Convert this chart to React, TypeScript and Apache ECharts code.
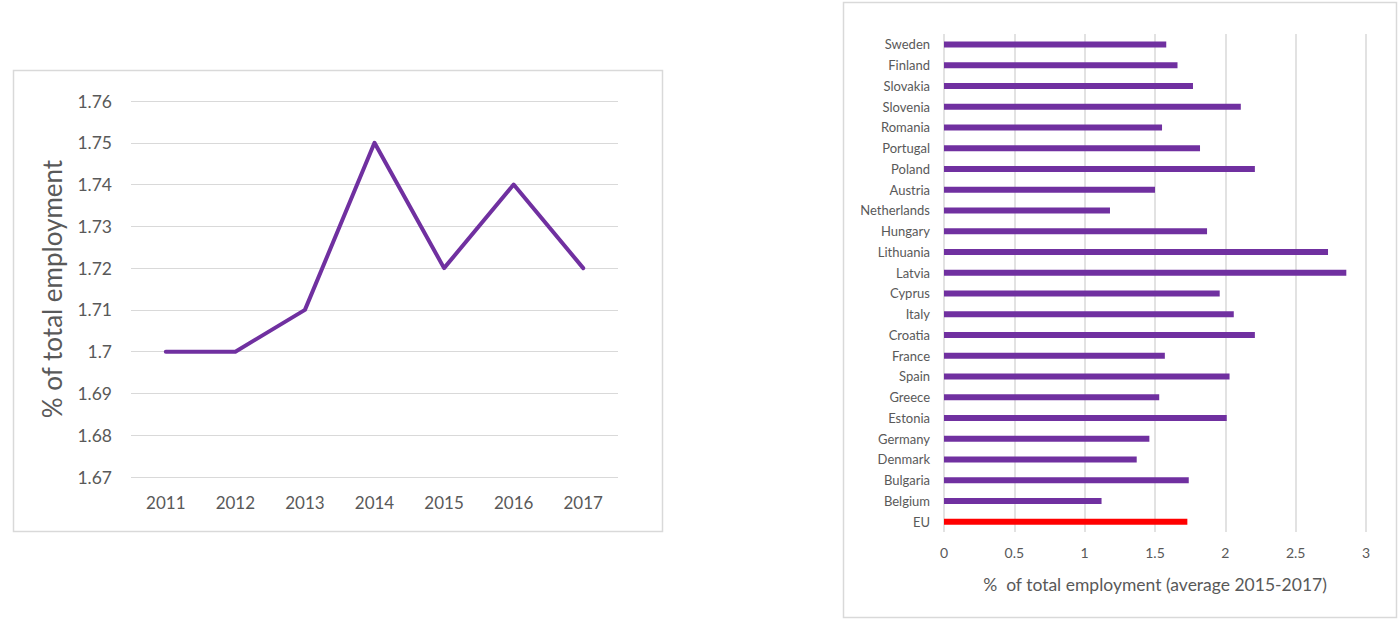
import React, { useEffect, useRef } from "react";
import * as echarts from "echarts";

const years = ["2011", "2012", "2013", "2014", "2015", "2016", "2017"];
const shareByYear = [1.7, 1.7, 1.71, 1.75, 1.72, 1.74, 1.72];

const countries = [
  "Sweden", "Finland", "Slovakia", "Slovenia", "Romania", "Portugal", "Poland",
  "Austria", "Netherlands", "Hungary", "Lithuania", "Latvia", "Cyprus", "Italy",
  "Croatia", "France", "Spain", "Greece", "Estonia", "Germany", "Denmark",
  "Bulgaria", "Belgium", "EU",
];
const countryShare = [
  1.58, 1.66, 1.77, 2.11, 1.55, 1.82, 2.21,
  1.5, 1.18, 1.87, 2.73, 2.86, 1.96, 2.06,
  2.21, 1.57, 2.03, 1.53, 2.01, 1.46, 1.37,
  1.74, 1.12, 1.73,
];
const highlight = "EU";

const PURPLE = "#7030A0";
const TEXT = "#595959";
const GRID = "#d9d9d9";
const FONT = "Lato, 'Open Sans', sans-serif";

export default function App() {
  const ref = useRef<HTMLDivElement>(null);
  useEffect(() => {
    if (!ref.current) return;
    const chart = echarts.init(ref.current, null, { renderer: "svg" });
    const fmt = (v: number) => String(parseFloat(v.toFixed(2)));
    chart.setOption({
      animation: false,
      backgroundColor: "#ffffff",
      textStyle: { fontFamily: FONT, color: TEXT },
      graphic: [
        {
          type: "rect",
          shape: { x: 13.5, y: 70.5, width: 649, height: 461 },
          style: { fill: "none", stroke: GRID, lineWidth: 1.5 },
          silent: true,
        },
        {
          type: "rect",
          shape: { x: 843.5, y: 2.5, width: 553, height: 615 },
          style: { fill: "none", stroke: GRID, lineWidth: 1.5 },
          silent: true,
        },
      ],
      grid: [
        { left: 131, right: 781, top: 101, bottom: 143 },
        { left: 944, right: 33, top: 34, bottom: 88 },
      ],
      xAxis: [
        {
          gridIndex: 0,
          type: "category",
          data: years,
          boundaryGap: true,
          axisLine: { show: false },
          axisTick: { show: false },
          axisLabel: { color: TEXT, fontSize: 17, margin: 17, fontFamily: FONT },
        },
        {
          gridIndex: 1,
          type: "value",
          min: 0,
          max: 3,
          interval: 0.5,
          axisLine: { show: false },
          axisTick: { show: false },
          splitLine: { show: true, lineStyle: { color: GRID, width: 1.5 } },
          axisLabel: { color: TEXT, fontSize: 14, margin: 13, fontFamily: FONT, formatter: fmt },
          name: "%  of total employment (average 2015-2017)",
          nameLocation: "middle",
          nameGap: 43,
          nameTextStyle: { color: TEXT, fontSize: 17.5, fontFamily: FONT },
        },
      ],
      yAxis: [
        {
          gridIndex: 0,
          type: "value",
          min: 1.67,
          max: 1.76,
          interval: 0.01,
          axisLine: { show: false },
          axisTick: { show: false },
          splitLine: { show: true, lineStyle: { color: GRID, width: 1.2 } },
          axisLabel: { color: TEXT, fontSize: 17.5, margin: 19, fontFamily: FONT, formatter: fmt },
          name: "% of total employment",
          nameLocation: "middle",
          nameGap: 66,
          nameTextStyle: { color: TEXT, fontSize: 26, fontFamily: FONT },
        },
        {
          gridIndex: 1,
          type: "category",
          data: countries,
          inverse: true,
          axisLine: { show: false },
          axisTick: { show: false },
          axisLabel: { color: TEXT, fontSize: 13, margin: 14, fontFamily: FONT },
        },
      ],
      series: [
        {
          type: "line",
          xAxisIndex: 0,
          yAxisIndex: 0,
          data: shareByYear,
          symbol: "none",
          lineStyle: { color: PURPLE, width: 4, join: "round", cap: "round" },
          itemStyle: { color: PURPLE },
        },
        {
          type: "bar",
          xAxisIndex: 1,
          yAxisIndex: 1,
          barWidth: 6,
          data: countryShare.map((v, i) => ({
            value: v,
            itemStyle: { color: countries[i] === highlight ? "#FF0000" : PURPLE },
          })),
        },
      ],
    });
    return () => chart.dispose();
  }, []);
  return (
    <div
      ref={ref}
      style={{ position: "absolute", left: 0, top: 0, width: 1399, height: 620 }}
    />
  );
}
